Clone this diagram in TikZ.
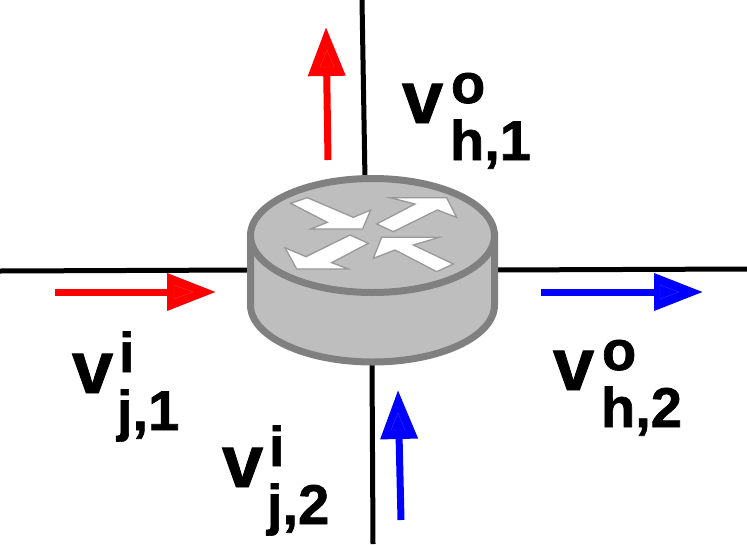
\documentclass[tikz,border=0pt]{standalone}
\usepackage{fontspec}
\setmainfont{Liberation Sans}
\newfontfamily\labelface[FakeBold=1.2]{Liberation Sans Bold}
\usetikzlibrary{arrows.meta}
\definecolor{rimgray}{RGB}{128,128,128}
\definecolor{bodygray}{RGB}{190,190,190}
\tikzset{
  wire/.style={draw=black,line width=5pt},
  flow/.style={line width=7pt,-{Triangle[length=49pt,width=36pt]}},
  glint/.style={line width=0.4pt,opacity=0.5},
  chevron/.style={draw=rimgray!80,fill=white,line width=1.3pt,line join=miter},
  base/.style={inner sep=0pt,outer sep=0pt,anchor=base west,font=\labelface\fontsize{74}{74}\selectfont},
  idx/.style={inner sep=0pt,outer sep=0pt,anchor=base west,font=\labelface\fontsize{56}{56}\selectfont}
}
\begin{document}
\begin{tikzpicture}[x=1pt,y=-1pt]
\useasboundingbox (0,0) rectangle (747,544);
% free ends
\coordinate (wl) at (0,271); \coordinate (wlr) at (250,270);
\coordinate (wr) at (747,269); \coordinate (wrl) at (495,270);
\coordinate (wt) at (362,0); \coordinate (wtb) at (365,180);
\coordinate (wb) at (373,544); \coordinate (wbt) at (372,362);
\draw[wire] (wl) -- (wlr);
\draw[wire] (wr) -- (wrl);
\draw[wire] (wt) -- (wtb);
\draw[wire] (wb) -- (wbt);
% router
\draw[rimgray,fill=bodygray,line width=7pt]
  (250.5,235.5) -- (250.5,305) arc[start angle=180,end angle=360,x radius=122pt,y radius=57pt] -- (494.5,235.5) -- cycle;
\draw[rimgray,fill=bodygray,line width=7pt] (372.5,235.5) ellipse[x radius=122pt,y radius=57pt];
\begin{scope}[shift={(230,160)},x=0.3333pt,y=-0.3333pt]
\draw[chevron] (182,130) -- (232,113) -- (370,172) -- (422,150) -- (398,207) -- (242,207) -- (292,187) -- cycle;
\draw[chevron] (440,192) -- (555,132) -- (480,113) -- (650,113) -- (680,172) -- (622,150) -- (490,215) -- cycle;
\draw[chevron] (415,250) -- (360,225) -- (228,290) -- (165,263) -- (200,327) -- (355,327) -- (305,308) -- cycle;
\draw[chevron] (670,312) -- (620,335) -- (495,270) -- (430,295) -- (455,232) -- (628,232) -- (550,255) -- cycle;
\end{scope}
% flow arrows
\coordinate (ra) at (55,292); \coordinate (rb) at (216,292);
\coordinate (rc) at (328,160); \coordinate (rd) at (326,27);
\coordinate (ba) at (541,292); \coordinate (bb) at (703,292);
\coordinate (bc) at (401,520); \coordinate (bd) at (398,390);
\draw[flow,red] (ra) -- (rb);
\draw[flow,red] (rc) -- (rd);
\draw[flow,blue] (ba) -- (bb);
\draw[flow,blue] (bc) -- (bd);
\draw[glint,red!60!white] (174,285) -- (193,292) -- (174,299) -- cycle;
\draw[glint,red!60!white] (320,67) -- (327,50) -- (334,67) -- cycle;
\draw[glint,blue!60!white] (660,285) -- (679,292) -- (660,299) -- cycle;
\draw[glint,blue!60!white] (391,430) -- (398,413) -- (405,430) -- cycle;
% labels
\node[base] (v1) at (72,393) {v};
\node[idx] (s1) at (119,372) {i};
\node[idx] (t1) at (117,430) {j,1};
\node[base] (v2) at (402,123) {v};
\node[idx] (s2) at (451,103) {o};
\node[idx] (t2) at (450,160) {h,1};
\node[base] (v3) at (553,390) {v};
\node[idx] (s3) at (602,370) {o};
\node[idx] (t3) at (601,427) {h,2};
\node[base] (v4) at (222,487) {v};
\node[idx] (s4) at (269,466) {i};
\node[idx] (t4) at (267,524) {j,2};
\end{tikzpicture}
\end{document}
